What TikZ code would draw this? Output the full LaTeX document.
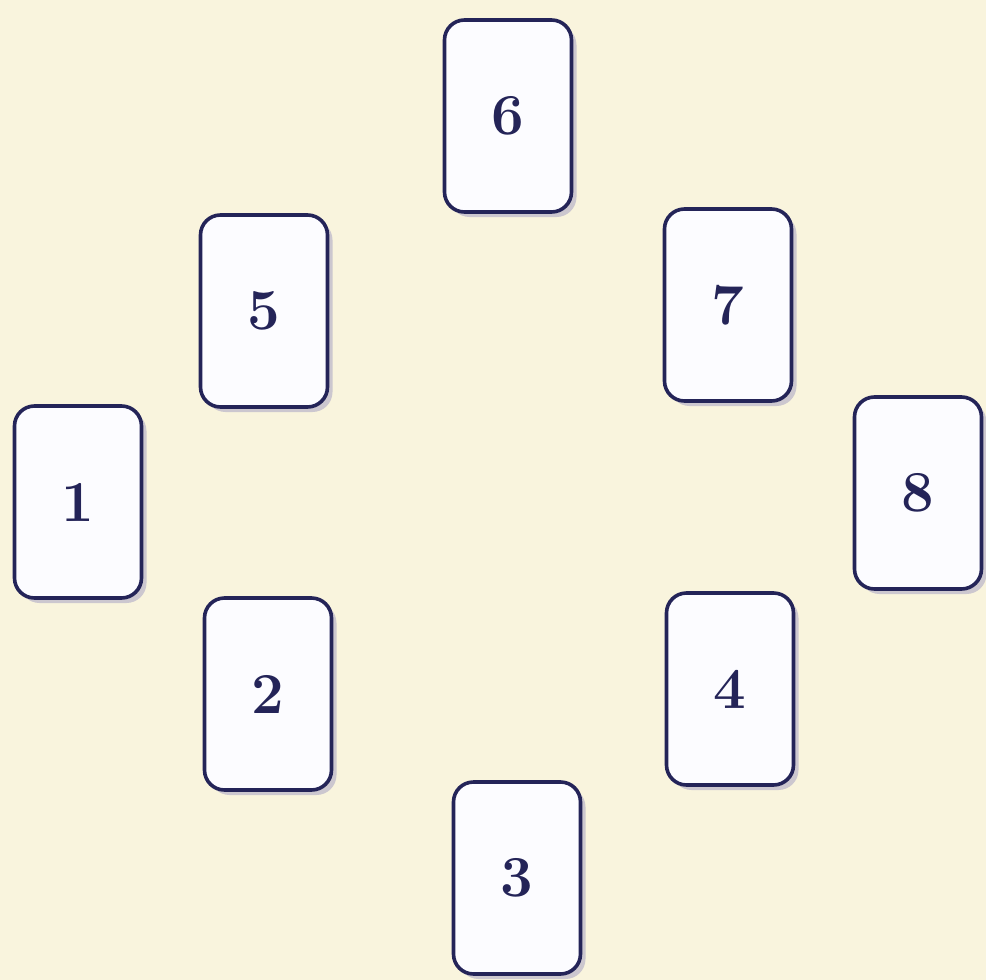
\documentclass[tikz,border=0pt]{standalone}
\usepackage{tikz}
\usepackage{xcolor}
\usetikzlibrary{shadows, positioning}
\definecolor{cCream}{RGB}{249,244,221}
\definecolor{cNavy}{RGB}{36,36,88}
\definecolor{cShadow}{RGB}{150,145,190}
\definecolor{cFace}{RGB}{252,252,255}
\tikzset{
	% spread helpers
	cardbox/.style={rectangle, rounded corners=10pt, minimum width=63.5pt, minimum height=96pt, line width=1.8pt, draw=cNavy, fill=cFace, text=cNavy, font=\fontsize{29}{34}\selectfont\bfseries, text centered,
		drop shadow={shadow xshift=2.5pt, shadow yshift=-2.5pt, fill=cShadow, opacity=0.45}},
}

\begin{document}
\begin{tikzpicture}[x=0.5pt, y=-0.5pt]
	\fill[cCream] (0,0) rectangle (986,980);
	\useasboundingbox (0,0) rectangle (986,980);
	\foreach \num/\px/\py in {1/78/502, 2/268/694, 3/517/878, 4/730/689, 5/264/311, 6/508/116, 7/728/305, 8/918/493}
		\node[cardbox] (card\num) at (\px,\py) {\num};
\end{tikzpicture}
\end{document}
